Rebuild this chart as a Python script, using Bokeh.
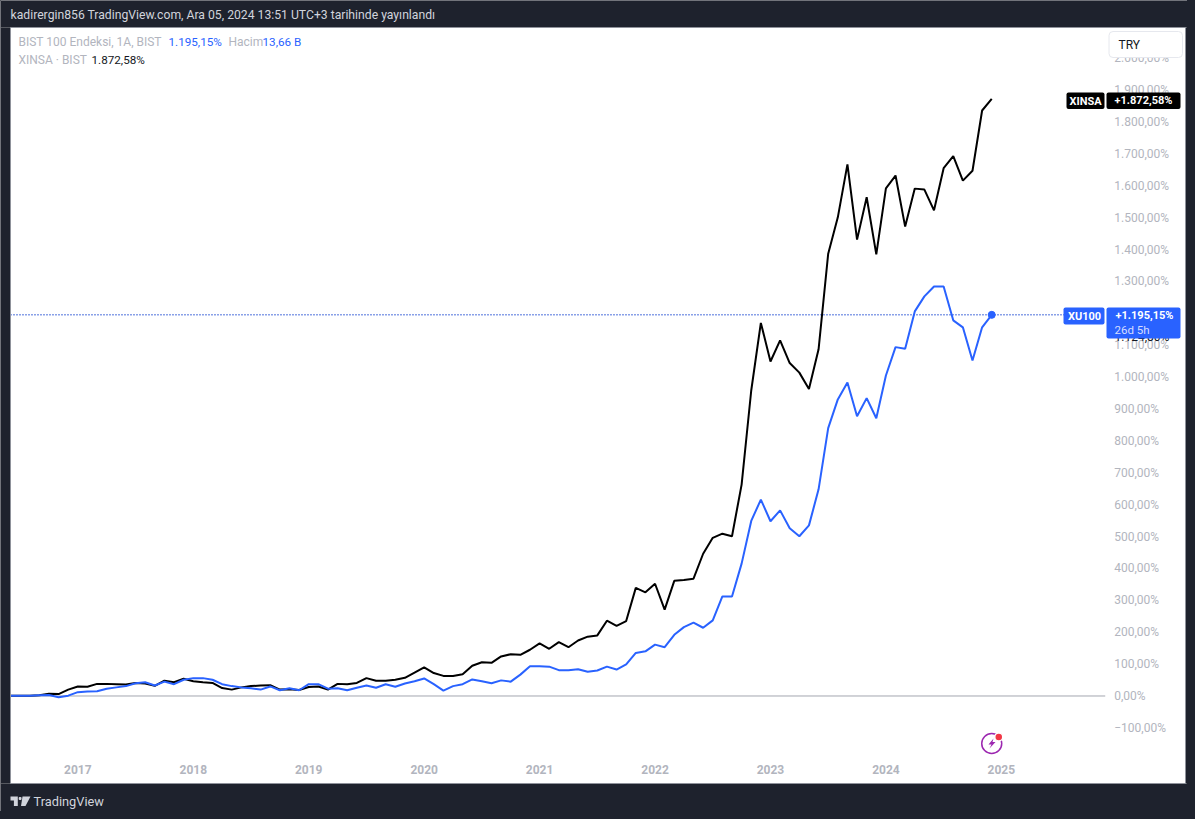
from bokeh.plotting import figure
from bokeh.models import BoxAnnotation, Label, Range1d, FixedTicker, PolyAnnotation
from bokeh.embed import file_html
from bokeh.resources import INLINE

xu100 = [1, 1, 1, 2, 3, -4, 1, 12, 14, 15, 23, 27, 31, 40, 43, 33, 45, 37, 51, 56, 56, 51, 37, 31,
         27, 24, 20, 30, 18, 24, 18, 37, 37, 23, 24, 18, 26, 33, 26, 37, 29, 39, 46, 55, 37, 17, 31, 37,
         52, 46, 40, 49, 45, 67, 93, 93, 92, 81, 81, 84, 76, 80, 92, 83, 99, 135, 140, 161, 153, 192, 216, 230,
         214, 237, 312, 312, 415, 549, 616, 548, 582, 526, 501, 535, 648, 840, 930, 983, 877, 934, 871, 1005,
         1094, 1089, 1206, 1253, 1284, 1284, 1178, 1156, 1052, 1156, 1195.15]
xinsa = [1, 1, 1, 2, 7, 6, 20, 30, 29, 38, 38, 37, 36, 41, 39, 32, 48, 43, 54, 46, 43, 41, 25, 20,
         27, 31, 33, 34, 20, 21, 19, 28, 30, 20, 38, 37, 41, 56, 48, 48, 51, 57, 73, 90, 72, 63, 63, 68,
         95, 106, 104, 124, 131, 129, 145, 165, 148, 169, 153, 174, 186, 190, 236, 220, 235, 339, 325, 352, 271, 361, 364, 368,
         446, 496, 509, 501, 663, 958, 1170, 1049, 1115, 1044, 1014, 963, 1087, 1387, 1501, 1667, 1431, 1564, 1385, 1592,
         1632, 1472, 1591, 1588, 1523, 1655, 1693, 1616, 1647, 1836, 1872.58]
months = list(range(len(xu100)))  # one point a month, June 2016 to December 2024
year_ticks = [7, 19, 31, 43, 55, 67, 79, 91, 103]
year_labels = ["2017", "2018", "2019", "2020", "2021", "2022", "2023", "2024", "2025"]
pct_ticks = [-100, 0, 100, 200, 300, 400, 500, 600, 700, 800, 900, 1000, 1100, 1200, 1300, 1400, 1500,
             1600, 1700, 1800, 1900, 2000]
pct_labels = ["\u2212100,00%", "0,00%", "100,00%", "200,00%", "300,00%", "400,00%", "500,00%", "600,00%", "700,00%",
              "800,00%", "900,00%", "1.000,00%", "1.100,00%", "1.200,00%", "1.300,00%", "1.400,00%", "1.500,00%",
              "1.600,00%", "1.700,00%", "1.800,00%", "1.900,00%", "2.000,00%"]
header = "kadirergin856 TradingView.com, Ara 05, 2024 13:51 UTC+3 tarihinde yayınlandı"

DARK = "#1e222d"
BLUE = "#2962ff"
GREY = "#b2b5be"
FONT = "Roboto"
X_END = 113.8      # where the price scale begins
Y_AXIS_AT = -192.9  # where the time scale begins

p = figure(width=1187, height=811, output_backend="svg", toolbar_location=None,
           x_range=Range1d(-1.0395, 122.35), y_range=Range1d(-362.2, 2180.9),
           min_border_left=0, min_border_right=0, min_border_top=0, min_border_bottom=0,
           border_fill_color=DARK, background_fill_color="white", outline_line_color=None,
           x_axis_location="below", y_axis_location="right")
p.grid.visible = False

for ax in (p.xaxis[0], p.yaxis[0]):
    ax.axis_line_color = None
    ax.major_tick_line_color = None
    ax.minor_tick_line_color = None
    ax.major_tick_out = 0
    ax.minor_tick_out = 0
    ax.major_label_text_color = GREY
    ax.major_label_text_font = FONT
    ax.major_label_text_font_size = "12px"

p.xaxis[0].ticker = FixedTicker(ticks=year_ticks)
p.xaxis[0].major_label_overrides = dict(zip(year_ticks, year_labels))
p.xaxis[0].major_label_text_font_style = "bold"
p.xaxis[0].major_label_standoff = 7
p.xaxis[0].fixed_location = Y_AXIS_AT
p.yaxis[0].ticker = FixedTicker(ticks=pct_ticks)
p.yaxis[0].major_label_overrides = dict(zip(pct_ticks, pct_labels))
p.yaxis[0].major_label_standoff = 9
p.yaxis[0].fixed_location = X_END

p.line([0, X_END], [0, 0], line_color="#a3a6af", line_width=1)
p.line([0, X_END], [xu100[-1], xu100[-1]], line_color="#1443d0", line_width=1.5, line_dash="1 2")

p.line(months, xinsa, line_color="#000000", line_width=2)
p.line(months, xu100, line_color=BLUE, line_width=2)
p.scatter([months[-1]], [xu100[-1]], size=7, color=BLUE)

# bolt marker near the latest bar
p.scatter([months[-1]], [-149], size=20, marker="circle", fill_color=None, line_color="#9c27b0", line_width=1.5)
p.scatter([months[-1] + 0.73], [-128.6], size=8, marker="circle", fill_color="#f23645", line_color="white", line_width=1.5)


def box(l, r, t, b, **kw):
    a = dict(left=l, right=r, top=t, bottom=b,
             left_units="canvas", right_units="canvas", top_units="canvas", bottom_units="canvas",
             level="overlay", fill_alpha=1, line_alpha=1)
    a.update(kw)
    p.add_layout(BoxAnnotation(**a))


def poly(xs, ys, color):
    p.add_layout(PolyAnnotation(xs=xs, ys=ys, xs_units="canvas", ys_units="canvas", fill_color=color,
                                fill_alpha=1, line_color=None, level="overlay"))


def text(px, py, s, color=GREY, size="12px", style="normal", align="left", font=FONT):
    p.add_layout(Label(x=px, y=py, x_units="canvas", y_units="canvas", text=s, text_color=color,
                       text_font=font, text_font_size=size, text_font_style=style, text_align=align,
                       text_baseline="middle", level="overlay"))


# dark surround of the white pane
box(0, 1187, 0, 27, fill_color=DARK, line_color=None)
box(0, 1187, 783, 811, fill_color=DARK, line_color=None)
box(0, 10, 27, 783, fill_color=DARK, line_color=None)
box(1185, 1187, 27, 783, fill_color=DARK, line_color=None)
box(10, 1185, 27, 783, fill_alpha=0, line_color="#8f929b", line_width=1)

text(10, 14.5, header, color="#d1d4dc", size="12.2px")

# legend
text(18, 41, "BIST 100 Endeksi, 1A, BIST")
text(168, 41, "1.195,15%", color=BLUE, size="11.7px")
text(228, 41, "Hacim")
text(262, 41, "13,66 B", color=BLUE, size="11.7px")
text(18, 59, "XINSA · BIST")
text(91, 59, "1.872,58%", color="#131722", size="11.7px")

# TRY button
box(1108.5, 1182, 31, 57, fill_color="white", line_color="#e6e8ee", line_width=1, border_radius=4)
text(1118, 44, "TRY", color="#131722")

# hidden scale value behind the XU100 tag
p.add_layout(Label(x=1114, y=1124.8, x_units="canvas", y_units="data", text="1.124,80%", text_color="#131722",
                   text_font=FONT, text_font_size="12px", text_baseline="middle", level="overlay"))

# price tags
box(1066, 1104, 92, 108.5, fill_color="#000000", line_color=None, border_radius=2)
text(1085, 100.5, "XINSA", color="white", style="bold", size="11px", align="center")
box(1106, 1180, 92, 108.5, fill_color="#000000", line_color=None, border_radius=2)
text(1143, 100, "+1.872,58%", color="white", style="bold", size="11px", align="center")
box(1063, 1104, 307, 324, fill_color=BLUE, line_color=None, border_radius=2)
text(1084, 315.5, "XU100", color="white", style="bold", size="11px", align="center")
box(1106, 1180, 307, 338, fill_color=BLUE, line_color=None, border_radius=2)
text(1144, 314.5, "+1.195,15%", color="white", style="bold", size="11px", align="center")
text(1114, 329, "26d 5h", color="#d4dcff", size="11.5px")

poly([993, 988, 991, 989, 995, 992], [738, 744, 744, 748, 741.5, 741.5], "#9c27b0")

# footer logo and name
poly([10, 17.3, 17.3, 13.4, 13.4, 10], [796, 796, 805.4, 805.4, 800, 800], "#d1d4dc")
box(18.2, 21, 796.6, 799.4, fill_color="#d1d4dc", line_color=None, border_radius=1)
poly([22, 30, 25, 20.5], [796, 796, 805.4, 805.4], "#d1d4dc")
text(33, 801, "TradingView", color="#d1d4dc", size="12.8px")

html = file_html(p, INLINE)
html = html.replace("</head>", "<style>html,body{background:#1e222d;margin:0}</style></head>", 1)
open("out.html", "w").write(html)
